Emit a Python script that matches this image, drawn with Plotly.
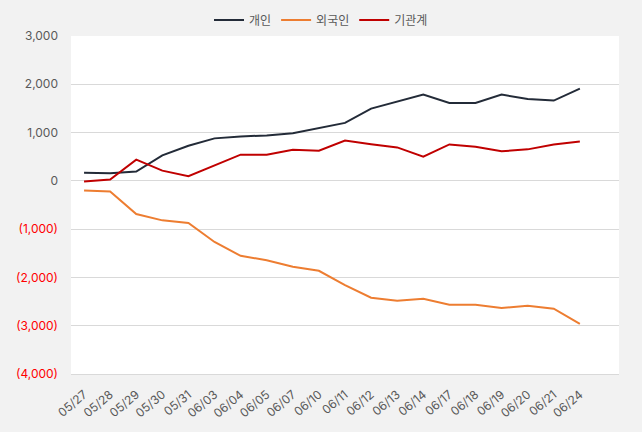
import plotly.graph_objects as go

dates = ["05/27","05/28","05/29","05/30","05/31","06/03","06/04","06/05","06/07","06/10",
         "06/11","06/12","06/13","06/14","06/17","06/18","06/19","06/20","06/21","06/24"]
individual = [170, 157, 192, 528, 728, 880, 920, 940, 985, 1085,
              1200, 1497, 1641, 1786, 1614, 1615, 1786, 1697, 1663, 1909]
foreign = [-200, -220, -688, -818, -873, -1265, -1553, -1643, -1780, -1863,
           -2160, -2420, -2482, -2441, -2565, -2565, -2633, -2585, -2647, -2963]
institution = [-12, 27, 439, 212, 95, 322, 542, 542, 645, 625,
               834, 760, 693, 501, 755, 707, 611, 652, 755, 817]

names = ["개인", "외국인", "기관계"]
colors = ["#232b38", "#ed7d31", "#c00000"]
series = [individual, foreign, institution]

tick_vals = [3000, 2000, 1000, 0, -1000, -2000, -3000, -4000]
def fmt(v):
    if v < 0:
        return "<span style='color:#ff0000'>(%s)</span>" % format(-v, ",")
    return format(v, ",")
tick_text = [fmt(v) for v in tick_vals]

fig = go.Figure()
for n, c, s in zip(names, colors, series):
    fig.add_trace(go.Scatter(x=dates, y=s, name=n, mode="lines",
                             line=dict(color=c, width=2)))

font = "Inter, Noto Sans CJK KR, sans-serif"
fig.update_layout(
    width=642, height=432,
    paper_bgcolor="#f2f2f2", plot_bgcolor="#ffffff",
    margin=dict(l=71, r=23, t=36, b=58),
    font=dict(family=font, size=12, color="#595959"),
    legend=dict(orientation="h", x=0.5, xref="container", xanchor="center",
                y=1 - 20 / 432, yref="container", yanchor="middle",
                font=dict(size=12, color="#595959"), bgcolor="rgba(0,0,0,0)",
                itemwidth=30, tracegroupgap=0),
    xaxis=dict(type="category", range=[-0.5, 20.5], tickangle=-40, showgrid=False,
               showline=True, linecolor="#d9d9d9", ticks="", automargin=False,
               ticklabelstandoff=8, tickfont=dict(size=12, color="#595959")),
    yaxis=dict(range=[-4000, 3000], tickvals=tick_vals, ticktext=tick_text,
               showgrid=True, gridcolor="#d9d9d9", zeroline=False, ticks="", automargin=False,
               ticklabelstandoff=12, tickfont=dict(size=12, color="#595959")),
)
fig.write_html("out.html", config={"displayModeBar": False},
               post_script="document.body.style.margin='0';document.body.style.overflow='hidden';")
